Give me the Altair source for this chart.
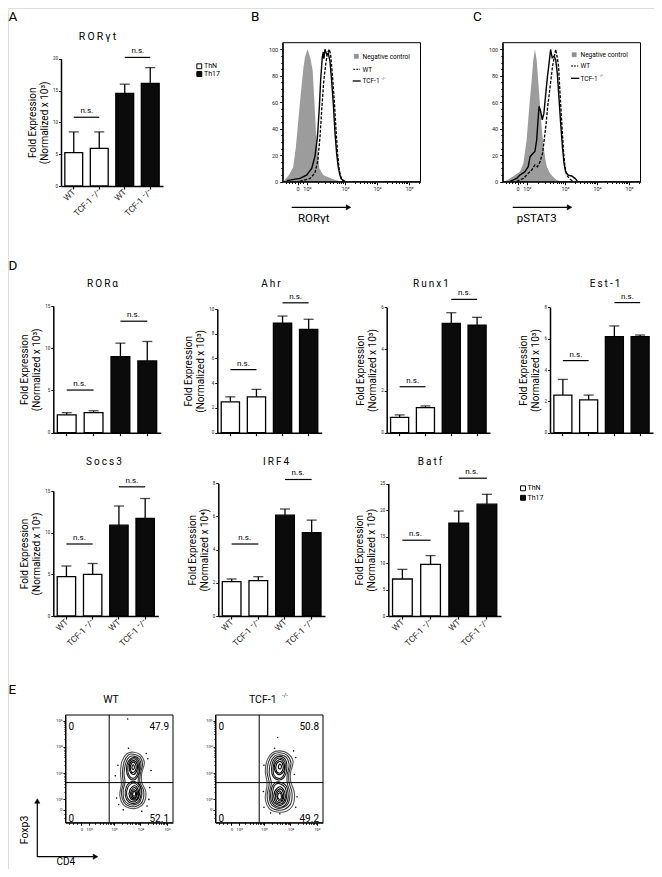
import altair as alt
import pandas as pd

FONT = "Roboto"
M = 8            # page margin
W, H = 646, 861  # whole chart (autosize none, padding 0)


def c(v):
    """page pixel -> chart pixel"""
    return v - M


DUMMY = pd.DataFrame({"d": [0]})

# ---------------------------------------------------------------- data
groups = ["WT_ThN", "KO_ThN", "WT_Th17", "KO_Th17"]
group_labels = ["WT", "TCF-1 \u207b/\u207b", "WT", "TCF-1 \u207b/\u207b"]
cell_types = ["ThN", "ThN", "Th17", "Th17"]
ns_left = ["WT_ThN", "WT_Th17"]
ns_right = ["KO_ThN", "KO_Th17"]

rorgt_mean = [5.25, 5.9, 14.55, 16.1]
rorgt_err = [3.25, 2.6, 1.45, 2.5]
rorgt_ns = [10.8, 20.2]

rora_mean = [2.1, 2.37, 9.0, 8.5]
rora_err = [0.27, 0.23, 1.6, 2.3]
rora_ns = [5.05, 13.2]

ahr_mean = [2.5, 2.9, 8.85, 8.36]
ahr_err = [0.4, 0.6, 0.58, 0.81]
ahr_ns = [5.1, 10.5]

runx1_mean = [0.73, 1.2, 5.23, 5.15]
runx1_err = [0.12, 0.08, 0.51, 0.37]
runx1_ns = [2.2, 6.38]

est1_mean = [2.4, 2.09, 6.13, 6.13]
est1_err = [1.0, 0.31, 0.68, 0.1]
est1_ns = [4.6, 8.3]

socs3_mean = [4.72, 5.0, 10.9, 11.7]
socs3_err = [1.28, 1.3, 2.3, 2.4]
socs3_ns = [8.64, 15.5]

irf4_mean = [2.07, 2.13, 6.08, 5.02]
irf4_err = [0.16, 0.24, 0.37, 0.76]
irf4_ns = [4.34, 8.23]

batf_mean = [6.98, 9.75, 17.5, 21.1]
batf_err = [1.82, 1.65, 2.3, 1.86]
batf_ns = [14.3, 26.0]

# histograms (x in display decades of the flow axis)
hist_tick_pos = [1.52, 1.81, 3, 4, 5]
hist_tick_text = ["0", "10\u00b2", "10\u00b3", "10\u2074", "10\u2075"]
hist_y_ticks = [0, 20, 40, 60, 80, 100]

b_neg_t = [1.05, 1.12, 1.25, 1.38, 1.46, 1.54, 1.60, 1.65, 1.70, 1.75, 1.80, 1.83, 1.88, 1.93,
           1.99, 2.04, 2.09, 2.15, 2.20, 2.32, 2.48, 2.63, 2.84, 3.0]
b_neg_v = [0, 1.5, 5, 11, 25, 46, 62, 74, 86, 94, 98, 100, 96, 92, 84, 62, 39, 22, 10, 5, 3.3,
           1.8, 0.3, 0]
b_ko_t = [1.18, 1.59, 1.80, 1.96, 2.06, 2.14, 2.20, 2.24, 2.29, 2.32, 2.34, 2.375, 2.43, 2.48,
          2.53, 2.58, 2.64, 2.69, 2.74, 2.79, 2.84, 2.90, 3.0]
b_ko_v = [0.8, 2.5, 5, 10, 19, 34, 57, 77, 94, 98, 93, 100, 96, 97, 91, 77, 57, 36, 21, 11, 5,
          1.8, 0.3]
b_wt_t = [1.59, 1.91, 2.06, 2.15, 2.22, 2.28, 2.34, 2.40, 2.45, 2.51, 2.55, 2.61, 2.67, 2.72,
          2.77, 2.82, 2.875, 2.95]
b_wt_v = [0.3, 2.5, 6.5, 16, 34, 57, 77, 89, 97, 100, 96, 80, 60, 39, 21, 9, 2.5, 0.3]

c_neg_t = [1.05, 1.125, 1.28, 1.44, 1.59, 1.70, 1.80, 1.885, 1.96, 2.01, 2.06, 2.115, 2.17,
           2.22, 2.27, 2.32, 2.375, 2.43, 2.53, 2.64, 2.74, 2.84, 2.95]
c_neg_v = [0, 0.3, 2.5, 5, 7.6, 14, 31.5, 57, 77, 92, 100, 92, 74, 57, 41.6, 29, 19, 11.3, 6.3,
           3.3, 1.3, 0.3, 0]
c_ko_t = [1.28, 1.49, 1.59, 1.75, 1.85, 1.91, 2.01, 2.06, 2.115, 2.15, 2.19, 2.24, 2.29, 2.34,
          2.40, 2.45, 2.50, 2.55, 2.60, 2.66, 2.71, 2.76, 2.81, 2.865, 2.92, 2.97, 3.02, 3.10,
          3.21, 3.31, 3.385]
c_ko_v = [0.3, 2.5, 5, 7.6, 11.3, 18.9, 21.6, 22.8, 31.5, 44, 57, 53, 46.8, 51.6, 66.7, 79, 89,
          100, 93.6, 94.8, 92, 81.8, 64, 44, 26.5, 13.9, 7.6, 5, 4.3, 2.5, 0.5]
c_wt_t = [1.49, 1.70, 1.85, 1.96, 2.06, 2.14, 2.22, 2.30, 2.35, 2.41, 2.46, 2.51, 2.56, 2.61,
          2.67, 2.71, 2.76, 2.80, 2.84, 2.90, 2.95, 3.0, 3.05, 3.16, 3.26]
c_wt_v = [0.3, 2.5, 6.3, 8.8, 12.6, 11.3, 15, 21.6, 31.5, 44, 57, 66.7, 77, 87, 94.8, 100,
          93.6, 87, 69, 44, 24, 11.3, 5, 1.8, 0.3]

# flow plots (panel E), coordinates in display decades
flow_x_tick_pos = [1.77, 2.06, 3, 4, 5]
flow_y_tick_pos = [1.6, 2, 3, 4, 5]
flow_tick_text = ["0", "10\u00b2", "10\u00b3", "10\u2074", "10\u2075"]
gate_x = 2.82
gate_y = 2.64
wt_quadrants = ["0", "47.9", "0", "52.1"]      # TL, TR, BL, BR
ko_quadrants = ["0", "50.8", "0", "49.2"]

wt_rings = [
    (1, [(3.75, 3.80), (4.00, 3.70), (4.15, 3.40), (4.05, 3.00), (4.05, 2.65), (4.20, 2.30),
         (4.15, 1.90), (3.90, 1.68), (3.60, 1.66), (3.35, 1.80), (3.22, 2.15), (3.28, 2.60),
         (3.25, 3.00), (3.30, 3.45), (3.50, 3.75)]),
    (2, [(3.75, 3.72), (3.98, 3.62), (4.08, 3.35), (4.00, 2.98), (3.98, 2.65), (4.12, 2.33),
         (4.08, 1.93), (3.85, 1.74), (3.58, 1.74), (3.37, 1.90), (3.28, 2.25), (3.35, 2.62),
         (3.32, 3.00), (3.38, 3.42), (3.55, 3.70)]),
    (2, [(3.75, 3.65), (3.95, 3.55), (4.02, 3.30), (3.95, 2.95), (3.92, 2.65), (4.05, 2.35),
         (4.00, 1.95), (3.80, 1.80), (3.55, 1.82), (3.38, 2.00), (3.35, 2.35), (3.42, 2.65),
         (3.38, 3.00), (3.45, 3.40), (3.58, 3.62)]),
    (3, [(3.75, 3.60), (3.93, 3.48), (3.97, 3.15), (3.88, 2.85), (3.72, 2.74), (3.55, 2.85),
         (3.47, 3.15), (3.55, 3.46)]),
    (3, [(3.75, 3.55), (3.90, 3.42), (3.92, 3.15), (3.85, 2.90), (3.72, 2.80), (3.58, 2.90),
         (3.52, 3.15), (3.58, 3.42)]),
    (3, [(3.78, 2.68), (3.99, 2.50), (4.00, 2.08), (3.82, 1.86), (3.57, 1.89), (3.43, 2.13),
         (3.47, 2.48), (3.63, 2.66)]),
    (3, [(3.78, 2.62), (3.95, 2.45), (3.95, 2.10), (3.80, 1.92), (3.60, 1.95), (3.48, 2.15),
         (3.52, 2.45), (3.65, 2.60)]),
    (4, [(3.74, 3.48), (3.87, 3.36), (3.87, 3.12), (3.74, 2.95), (3.60, 3.08), (3.60, 3.35)]),
    (4, [(3.74, 3.42), (3.83, 3.30), (3.82, 3.12), (3.72, 3.02), (3.63, 3.12), (3.64, 3.32)]),
    (4, [(3.78, 2.52), (3.92, 2.34), (3.91, 2.08), (3.77, 1.97), (3.60, 2.08), (3.60, 2.36)]),
    (4, [(3.78, 2.45), (3.88, 2.30), (3.86, 2.10), (3.75, 2.02), (3.64, 2.12), (3.65, 2.33)]),
    (5, [(3.73, 3.32), (3.77, 3.24), (3.74, 3.14), (3.68, 3.18), (3.69, 3.28)]),
    (5, [(3.77, 2.30), (3.82, 2.22), (3.78, 2.12), (3.71, 2.16), (3.72, 2.26)]),
    (5, [(3.77, 2.37), (3.85, 2.25), (3.82, 2.08), (3.72, 2.08), (3.67, 2.20), (3.70, 2.32)]),
]
ko_rings = [
    (1, [(3.60, 3.85), (3.90, 3.75), (4.10, 3.45), (4.00, 3.00), (4.02, 2.65), (4.15, 2.25),
         (4.10, 1.80), (3.85, 1.55), (3.50, 1.52), (3.20, 1.65), (3.05, 2.05), (3.12, 2.60),
         (3.05, 3.05), (3.12, 3.50), (3.32, 3.78)]),
    (2, [(3.60, 3.78), (3.88, 3.68), (4.02, 3.38), (3.94, 2.98), (3.95, 2.64), (4.06, 2.25),
         (4.01, 1.83), (3.78, 1.62), (3.48, 1.60), (3.22, 1.75), (3.12, 2.15), (3.20, 2.61),
         (3.12, 3.03), (3.18, 3.45), (3.36, 3.72)]),
    (2, [(3.60, 3.70), (3.85, 3.60), (3.95, 3.30), (3.88, 2.95), (3.88, 2.62), (3.98, 2.25),
         (3.92, 1.85), (3.70, 1.68), (3.45, 1.68), (3.25, 1.85), (3.20, 2.25), (3.28, 2.62),
         (3.20, 3.00), (3.25, 3.40), (3.40, 3.65)]),
    (3, [(3.60, 3.64), (3.82, 3.50), (3.86, 3.15), (3.76, 2.84), (3.55, 2.74), (3.34, 2.88),
         (3.29, 3.20), (3.38, 3.53)]),
    (3, [(3.60, 3.58), (3.78, 3.45), (3.80, 3.15), (3.72, 2.88), (3.55, 2.80), (3.38, 2.92),
         (3.35, 3.20), (3.42, 3.48)]),
    (3, [(3.60, 2.66), (3.85, 2.50), (3.91, 2.03), (3.74, 1.74), (3.46, 1.74), (3.27, 1.97),
         (3.29, 2.43), (3.42, 2.63)]),
    (3, [(3.60, 2.60), (3.80, 2.45), (3.85, 2.05), (3.70, 1.80), (3.48, 1.80), (3.32, 2.00),
         (3.35, 2.40), (3.45, 2.58)]),
    (4, [(3.62, 3.52), (3.76, 3.34), (3.75, 3.08), (3.58, 2.94), (3.41, 3.10), (3.43, 3.38)]),
    (4, [(3.62, 3.45), (3.72, 3.30), (3.70, 3.10), (3.58, 3.00), (3.46, 3.12), (3.48, 3.35)]),
    (4, [(3.62, 2.48), (3.79, 2.26), (3.77, 1.96), (3.58, 1.82), (3.40, 1.97), (3.41, 2.31)]),
    (4, [(3.62, 2.40), (3.74, 2.22), (3.72, 1.98), (3.58, 1.88), (3.45, 2.00), (3.46, 2.28)]),
    (5, [(3.62, 3.34), (3.66, 3.25), (3.62, 3.16), (3.55, 3.20), (3.56, 3.30)]),
    (5, [(3.60, 2.25), (3.66, 2.12), (3.62, 2.00), (3.53, 2.05), (3.53, 2.18)]),
    (5, [(3.60, 2.32), (3.70, 2.16), (3.67, 1.97), (3.55, 1.96), (3.49, 2.10), (3.51, 2.26)]),
]
wt_dots = [(4.35, 2.45), (4.28, 3.55), (3.10, 2.05), (3.18, 1.80), (4.32, 2.00), (3.55, 3.95),
           (3.52, 5.07), (4.05, 1.55), (3.05, 2.90), (4.40, 3.10), (4.22, 3.75), (3.15, 3.30),
           (4.25, 1.75), (3.35, 1.60)]
ko_dots = [(4.20, 3.60), (4.25, 2.10), (2.98, 2.30), (3.00, 1.70), (3.40, 3.95), (3.52, 4.36),
           (4.15, 2.95), (3.60, 1.45), (4.12, 3.85), (3.00, 3.30), (4.20, 1.70), (3.25, 1.48)]

# ---------------------------------------------------------------- helpers
AXC = dict(domainColor="black", tickColor="black", labelColor="#222", grid=False,
           labelFont=FONT, titleFont=FONT, titleColor="black", titleFontWeight="normal")


def label_expr(pos, txt):
    s = ""
    for i in range(len(pos) - 1):
        mid = (pos[i] + pos[i + 1]) / 2
        s += f"datum.value < {mid:.3f} ? '{txt[i]}' : "
    return s + f"'{txt[-1]}'"


def cat_expr():
    s = ""
    for g, t in zip(groups[:-1], group_labels[:-1]):
        s += f"datum.value == '{g}' ? '{t}' : "
    return s + f"'{group_labels[-1]}'"


def lin(dom, rng):
    return alt.Scale(domain=dom, range=[c(rng[0]), c(rng[1])], nice=False, zero=False)


def bar_panel(means, errs, ns, ymax, ystep, xr, yr, show_labels, ytitle):
    top = [m + e for m, e in zip(means, errs)]
    df = pd.DataFrame({"g": groups, "ct": cell_types, "m": means, "top": top})
    nsdf = pd.DataFrame({"a": ns_left, "b": ns_right, "v": ns})

    def xs():
        return alt.Scale(domain=groups, range=[c(xr[0]), c(xr[1])],
                         paddingInner=0.3, paddingOuter=0.15)

    def ys():
        return lin([0, ymax], yr)

    xax = alt.Axis(orient="bottom", offset=c(yr[0]) - H, title=None, labels=show_labels,
                   labelExpr=cat_expr(), labelAngle=-45, labelAlign="right",
                   labelBaseline="middle", labelFontSize=8.5, labelPadding=1, tickSize=3,
                   tickWidth=1.2, domainWidth=1.5, **AXC)
    yax = alt.Axis(orient="left", offset=-c(xr[0]), values=list(range(0, ymax + 1, ystep)),
                   title=["Fold Expression", ytitle], titleFontSize=10, titlePadding=3,
                   titleLineHeight=12, labelFontSize=4.5, tickSize=2.5, tickWidth=1,
                   domainWidth=1.5, labelPadding=1, **AXC)
    base = alt.Chart(df)
    bars = base.mark_bar(stroke="black", strokeWidth=1.3).encode(
        x=alt.X("g:N", scale=xs(), axis=xax, sort=groups),
        y=alt.Y("m:Q", scale=ys(), axis=yax),
        fill=alt.Fill("ct:N", scale=alt.Scale(domain=["ThN", "Th17"], range=["white", "#0b0b0b"]),
                      legend=None))
    err = base.mark_rule(color="black", strokeWidth=1.3).encode(
        x=alt.X("g:N", scale=xs(), axis=None, sort=groups),
        y=alt.Y("m:Q", scale=ys(), axis=None), y2="top")
    cap = base.mark_tick(color="black", thickness=1.3, size=10).encode(
        x=alt.X("g:N", scale=xs(), axis=None, sort=groups),
        y=alt.Y("top:Q", scale=ys(), axis=None))
    nsl = alt.Chart(nsdf).mark_rule(color="black", strokeWidth=1.2).encode(
        x=alt.X("a:N", scale=xs(), axis=None), x2="b",
        y=alt.Y("v:Q", scale=ys(), axis=None))
    nst = alt.Chart(nsdf).mark_text(text="n.s.", fontSize=8, dx=13, dy=-2, baseline="bottom",
                                    font=FONT, color="black").encode(
        x=alt.X("a:N", scale=xs(), axis=None), y=alt.Y("v:Q", scale=ys(), axis=None))
    return [bars, err, cap, nsl, nst]


HIST_X_DOM = [1.053, 5.36]
HIST_Y_DOM = [0, 105]


def hist_panel(neg_t, neg_v, wt_t, wt_v, ko_t, ko_v, xr, yr):
    xax = alt.Axis(orient="bottom", offset=c(yr[0]) - H, values=hist_tick_pos,
                   labelExpr=label_expr(hist_tick_pos, hist_tick_text), title=None,
                   labelFontSize=5.5, tickSize=3, domainWidth=1.2, labelPadding=2, **AXC)
    yax = alt.Axis(orient="left", offset=-c(xr[0]), values=hist_y_ticks, title=None,
                   labelFontSize=5.5, tickSize=3, domainWidth=1.2, labelPadding=2, **AXC)
    neg = alt.Chart(pd.DataFrame({"t": neg_t, "v": neg_v})).mark_area(color="#9c9c9c").encode(
        x=alt.X("t:Q", scale=lin(HIST_X_DOM, xr), axis=xax),
        y=alt.Y("v:Q", scale=lin(HIST_Y_DOM, yr), axis=yax))
    wt = alt.Chart(pd.DataFrame({"t": wt_t, "v": wt_v})).mark_line(
        color="black", strokeWidth=1.3, strokeDash=[3, 1.5]).encode(
        x=alt.X("t:Q", scale=lin(HIST_X_DOM, xr), axis=None),
        y=alt.Y("v:Q", scale=lin(HIST_Y_DOM, yr), axis=None))
    ko = alt.Chart(pd.DataFrame({"t": ko_t, "v": ko_v})).mark_line(
        color="black", strokeWidth=1.4).encode(
        x=alt.X("t:Q", scale=lin(HIST_X_DOM, xr), axis=None),
        y=alt.Y("v:Q", scale=lin(HIST_Y_DOM, yr), axis=None))
    box = alt.Chart(pd.DataFrame({"x0": [HIST_X_DOM[0]], "x1": [HIST_X_DOM[1]],
                                  "y0": [HIST_Y_DOM[0]], "y1": [HIST_Y_DOM[1]]})).mark_rect(
        filled=False, color="black", strokeWidth=1).encode(
        x=alt.X("x0:Q", scale=lin(HIST_X_DOM, xr), axis=None), x2="x1",
        y=alt.Y("y0:Q", scale=lin(HIST_Y_DOM, yr), axis=None), y2="y1")
    return [neg, wt, ko, box]


FLOW_X_DOM = [1.17, 5.23]
FLOW_Y_DOM = [1.11, 5.22]


def flow_panel(rings, dots, quads, xr, yr):
    rows = []
    for i, (lvl, pts) in enumerate(rings):
        for j, (x, y) in enumerate(pts):
            rows.append({"ring": i, "lvl": lvl, "o": j, "x": x, "y": y})
    rdf = pd.DataFrame(rows)
    ddf = pd.DataFrame({"x": [p[0] for p in dots], "y": [p[1] for p in dots]})

    def X(f, axis=None):
        return alt.X(f, scale=lin(FLOW_X_DOM, xr), axis=axis)

    def Y(f, axis=None):
        return alt.Y(f, scale=lin(FLOW_Y_DOM, yr), axis=axis)

    xax = alt.Axis(orient="bottom", offset=c(yr[0]) - H, values=flow_x_tick_pos,
                   labelExpr=label_expr(flow_x_tick_pos, flow_tick_text), title=None,
                   labelFontSize=4.3, tickSize=2.5, domainWidth=1, labelPadding=2, **AXC)
    yax = alt.Axis(orient="left", offset=-c(xr[0]), values=flow_y_tick_pos,
                   labelExpr=label_expr(flow_y_tick_pos, flow_tick_text), title=None,
                   labelFontSize=4.3, tickSize=2.5, domainWidth=1, labelPadding=1, **AXC)
    rings_l = alt.Chart(rdf).mark_line(strokeWidth=1.1, interpolate="cardinal-closed").encode(
        x=X("x:Q", xax), y=Y("y:Q", yax), detail="ring:N", order="o:Q",
        stroke=alt.Stroke("lvl:O", scale=alt.Scale(domain=[1, 2, 3, 4, 5],
                                                    range=["#555555", "#333333", "#1a1a1a",
                                                           "#000000", "#000000"]),
                          legend=None))
    dots_l = alt.Chart(ddf).mark_circle(size=2.5, color="black", opacity=1).encode(
        x=X("x:Q"), y=Y("y:Q"))
    vq = alt.Chart(pd.DataFrame({"q": [gate_x], "a": [FLOW_Y_DOM[0]], "b": [FLOW_Y_DOM[1]]})).mark_rule(
        color="black", strokeWidth=1).encode(x=X("q:Q"), y=Y("a:Q"), y2="b")
    hq = alt.Chart(pd.DataFrame({"q": [gate_y], "a": [FLOW_X_DOM[0]], "b": [FLOW_X_DOM[1]]})).mark_rule(
        color="black", strokeWidth=1).encode(y=Y("q:Q"), x=X("a:Q"), x2="b")
    box = alt.Chart(pd.DataFrame({"x0": [FLOW_X_DOM[0]], "x1": [FLOW_X_DOM[1]],
                                  "y0": [FLOW_Y_DOM[0]], "y1": [FLOW_Y_DOM[1]]})).mark_rect(
        filled=False, color="black", strokeWidth=1).encode(
        x=X("x0:Q"), x2="x1", y=Y("y0:Q"), y2="y1")
    layers = [rings_l, dots_l, vq, hq, box]
    corners = [(0, 1, "left", 3, 12), (1, 1, "right", -4, 12),
               (0, 0, "left", 3, -4), (1, 0, "right", -4, -4)]
    for txt, (xi, yi, al, dx, dy) in zip(quads, corners):
        qdf = pd.DataFrame({"x": [FLOW_X_DOM[xi]], "y": [FLOW_Y_DOM[yi]], "t": [txt]})
        layers.append(alt.Chart(qdf).mark_text(fontSize=10, align=al, dx=dx, dy=dy, font=FONT,
                                               color="black").encode(
            x=X("x:Q"), y=Y("y:Q"), text="t:N"))
    return layers


def ghost(xdom, ydom, xr, yr, xvals, yvals, size=1.8):
    df = pd.DataFrame({"x": [xdom[0]], "y": [ydom[0]]})
    return alt.Chart(df).mark_point(opacity=0).encode(
        x=alt.X("x:Q", scale=lin(xdom, xr),
                axis=alt.Axis(orient="bottom", offset=c(yr[0]) - H, values=xvals,
                              labels=False, domain=False, tickSize=size,
                              tickColor="black", title=None, grid=False)),
        y=alt.Y("y:Q", scale=lin(ydom, yr),
                axis=alt.Axis(orient="left", offset=-c(xr[0]), values=yvals,
                              labels=False, domain=False, tickSize=size,
                              tickColor="black", title=None, grid=False)))


def text(s, x, y, size, align="center", baseline="alphabetic", angle=0, color="black"):
    kw = dict(text=s, fontSize=size, align=align, baseline=baseline, font=FONT, color=color)
    if angle:
        kw["angle"] = angle
    return alt.Chart(DUMMY).mark_text(**kw).encode(x=alt.value(c(x)), y=alt.value(c(y)))


def seg(x1, y1, x2, y2, w=1.2, dash=None):
    kw = dict(color="black", strokeWidth=w)
    if dash:
        kw["strokeDash"] = dash
    return alt.Chart(DUMMY).mark_rule(**kw).encode(
        x=alt.value(c(x1)), y=alt.value(c(y1)), x2=alt.value(c(x2)), y2=alt.value(c(y2)))


def sym(x, y, shape, size, fill, stroke="black", sw=1.0):
    return alt.Chart(DUMMY).mark_point(shape=shape, size=size, filled=True, fill=fill,
                                       stroke=stroke, strokeWidth=sw, opacity=1).encode(
        x=alt.value(c(x)), y=alt.value(c(y)))


def spaced(s):
    return "\u2009".join(s)


N3 = "(Normalized x 10\u00b3)"
N4 = "(Normalized x 10\u2074)"

layers = []
layers += bar_panel(rorgt_mean, rorgt_err, rorgt_ns, 20, 5, (61, 163), (186, 58.7), True, N3)
layers += bar_panel(rora_mean, rora_err, rora_ns, 15, 5, (53.3, 160.7), (432.7, 306), False, N3)
layers += bar_panel(ahr_mean, ahr_err, ahr_ns, 10, 2, (217.3, 321.7), (432.7, 309), False, N3)
layers += bar_panel(runx1_mean, runx1_err, runx1_ns, 6, 2, (386.7, 490), (432.7, 307.3), False, N3)
layers += bar_panel(est1_mean, est1_err, est1_ns, 8, 2, (550, 653), (432.7, 307.3), False, N3)
layers += bar_panel(socs3_mean, socs3_err, socs3_ns, 15, 5, (53.3, 158.3), (616, 491), True, N3)
layers += bar_panel(irf4_mean, irf4_err, irf4_ns, 8, 2, (218.3, 325), (616, 483.3), True, N4)
layers += bar_panel(batf_mean, batf_err, batf_ns, 25, 5, (388.3, 501), (616, 483.5), True, N3)
layers += hist_panel(b_neg_t, b_neg_v, b_wt_t, b_wt_v, b_ko_t, b_ko_v, (282.7, 420.5), (181.7, 42.7))
layers += hist_panel(c_neg_t, c_neg_v, c_wt_t, c_wt_v, c_ko_t, c_ko_v, (502.7, 640.5), (181.7, 42.7))
layers += flow_panel(wt_rings, wt_dots, wt_quadrants, (65.5, 173), (822.7, 715))
layers += flow_panel(ko_rings, ko_dots, ko_quadrants, (215.5, 323), (822.7, 715))

hist_minor_x = [1.15, 1.25, 1.35, 1.45, 1.6, 1.7, 2.17, 2.38, 2.53, 2.64, 2.74, 2.82, 2.88,
                2.94, 3.30, 3.48, 3.60, 3.70, 3.78, 3.85, 3.90, 3.95, 4.30, 4.48, 4.60, 4.70,
                4.78, 4.85, 4.90, 4.95, 5.30]
hist_minor_y = list(range(0, 101, 5))
flow_minor_x = [1.3, 1.45, 1.6, 2.3, 2.48, 2.6, 2.7, 2.78, 2.85, 2.9, 2.95, 3.30, 3.48, 3.60,
                3.70, 3.78, 3.85, 3.90, 3.95, 4.30, 4.48, 4.60, 4.70, 4.78, 4.85, 4.90, 4.95]
flow_minor_y = [1.3, 1.45, 2.30, 2.48, 2.60, 2.70, 2.78, 2.85, 2.90, 2.95, 3.30, 3.48, 3.60,
                3.70, 3.78, 3.85, 3.90, 3.95, 4.30, 4.48, 4.60, 4.70, 4.78, 4.85, 4.90, 4.95]

layers += [
    ghost(HIST_X_DOM, HIST_Y_DOM, (282.7, 420.5), (181.7, 42.7), hist_minor_x, hist_minor_y),
    ghost(HIST_X_DOM, HIST_Y_DOM, (502.7, 640.5), (181.7, 42.7), hist_minor_x, hist_minor_y),
    ghost(FLOW_X_DOM, FLOW_Y_DOM, (65.5, 173), (822.7, 715), flow_minor_x, flow_minor_y, 1.5),
    ghost(FLOW_X_DOM, FLOW_Y_DOM, (215.5, 323), (822.7, 715), flow_minor_x, flow_minor_y, 1.5),
]

layers += [
    # panel letters
    text("A", 8.5, 21, 13.5, align="left"),
    text("B", 251, 21, 13.5, align="left"),
    text("C", 473, 21, 13.5, align="left"),
    text("D", 8.5, 270, 13.5, align="left"),
    text("E", 8.5, 694, 13.5, align="left"),
    # gene titles
    text(spaced("ROR\u03b3t"), 97.5, 39.5, 10.5),
    text(spaced("ROR\u03b1"), 102.5, 287, 10),
    text(spaced("Ahr"), 271, 287, 10),
    text(spaced("Runx1"), 431, 287, 10),
    text(spaced("Est-1"), 605, 287, 10),
    text(spaced("Socs3"), 104, 465, 10),
    text(spaced("IRF4"), 276, 465, 10),
    text(spaced("Batf"), 430, 465, 10),
    # legend A
    sym(199.3, 66.3, "square", 24, "white"),
    text("ThN", 204, 66.3, 7, align="left", baseline="middle"),
    sym(199.3, 74, "square", 24, "#0b0b0b"),
    text("Th17", 204, 74, 7, align="left", baseline="middle"),
    # legend D
    sym(523, 488.3, "square", 24, "white"),
    text("ThN", 527.5, 488.3, 7, align="left", baseline="middle"),
    sym(523, 497.8, "square", 24, "#0b0b0b"),
    text("Th17", 527.5, 497.8, 7, align="left", baseline="middle"),
    # histogram legend B
    sym(356.3, 56.3, "square", 18, "#8f8f8f", stroke="#8f8f8f", sw=0.5),
    text("Negative control", 362.5, 56.5, 6.5, align="left", baseline="middle"),
    seg(353.3, 69.3, 360, 69.3, 1.0, [2, 1]),
    text("WT", 362.5, 69.5, 6.5, align="left", baseline="middle"),
    seg(352.7, 81, 360.7, 81, 1.3),
    text("TCF-1", 362.5, 81.2, 6.5, align="left", baseline="middle"),
    text("-/-", 381.5, 79, 4, align="left", baseline="middle"),
    # histogram legend C
    sym(574.2, 54.7, "square", 18, "#8f8f8f", stroke="#8f8f8f", sw=0.5),
    text("Negative control", 580.5, 54.9, 6.5, align="left", baseline="middle"),
    seg(571, 66, 578.3, 66, 1.0, [2, 1]),
    text("WT", 580.5, 66.2, 6.5, align="left", baseline="middle"),
    seg(571, 78.3, 579.3, 78.3, 1.3),
    text("TCF-1", 580.5, 78.5, 6.5, align="left", baseline="middle"),
    text("-/-", 599.5, 76.3, 4, align="left", baseline="middle"),
    # histogram x captions with arrows
    seg(291.7, 207.3, 346, 207.3, 1.2),
    sym(348.5, 207.3, "triangle-right", 28, "black", sw=0.5),
    text("ROR\u03b3t", 313.7, 221.7, 11.5),
    seg(512.7, 207.3, 567, 207.3, 1.2),
    sym(569.5, 207.3, "triangle-right", 28, "black", sw=0.5),
    text("pSTAT3", 536.7, 222, 11.5),
    # panel E titles and axis captions
    text("WT", 111, 703.3, 10.5),
    text("TCF-1", 249, 703.3, 10.5, align="left"),
    text("-/-", 282, 697, 6, align="left"),
    text("Foxp3", 25, 830, 10.5, baseline="middle", angle=270),
    seg(37.3, 857, 37.3, 803, 1.2),
    sym(37.3, 801, "triangle-up", 28, "black", sw=0.5),
    seg(37.3, 856.7, 93, 856.7, 1.2),
    sym(95.5, 856.7, "triangle-right", 28, "black", sw=0.5),
    text("CD4", 65.8, 865, 10),
]

chart = alt.layer(*layers).resolve_scale(
    x="independent", y="independent"
).properties(
    width=W, height=H, padding=0, autosize=alt.AutoSizeParams(type="none")
).configure_view(stroke=None).configure(font=FONT)

chart.save("out.html", embed_options={"renderer": "svg", "actions": False})
